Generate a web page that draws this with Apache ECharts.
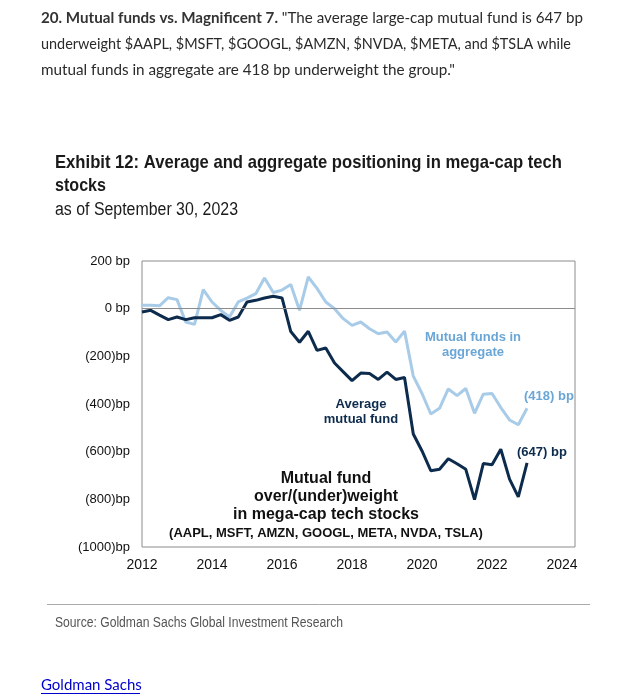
<!DOCTYPE html>
<html>
<head>
<meta charset="utf-8">
<script src="https://cdn.jsdelivr.net/npm/echarts@6/dist/echarts.min.js"></script>
<style>
html,body{margin:0;padding:0;background:#fff;}
#c{width:617px;height:699px;}
</style>
</head>
<body>
<div id="c"></div>
<script>
// Quarterly observation dates (decimal years)
var quarters = [
  2012.0, 2012.25, 2012.5, 2012.75,
  2013.0, 2013.25, 2013.5, 2013.75,
  2014.0, 2014.25, 2014.5, 2014.75,
  2015.0, 2015.25, 2015.5, 2015.75,
  2016.0, 2016.25, 2016.5, 2016.75,
  2017.0, 2017.25, 2017.5, 2017.75,
  2018.0, 2018.25, 2018.5, 2018.75,
  2019.0, 2019.25, 2019.5, 2019.75,
  2020.0, 2020.25, 2020.5, 2020.75,
  2021.0, 2021.25, 2021.5, 2021.75,
  2022.0, 2022.25, 2022.5, 2022.75,
  2023.0
];
// Mutual funds in aggregate (bp)
var aggregate = [
  14, 14, 12, 46,
  38, -56, -66, 80,
  28, -7, -35, 28,
  44, 63, 129, 68,
  78, 101, -7, 133,
  85, 28, 0, -42,
  -70, -56, -84, -105,
  -98, -140, -94, -283,
  -356, -442, -418, -337,
  -365, -335, -439, -359,
  -356, -415, -467, -487,
  -418
];
// Average mutual fund (bp)
var average = [
  -14, -7, -27, -46,
  -35, -46, -38, -38,
  -38, -25, -49, -35,
  28, 35, 45, 52,
  45, -96, -141, -95,
  -175, -165, -228, -265,
  -302, -270, -272, -297,
  -266, -297, -289, -526,
  -597, -680, -674, -630,
  -651, -674, -801, -650,
  -655, -590, -715, -790,
  -647
];
var yTicks = [-1000, -800, -600, -400, -200, 0, 200];
var xTicks = [2012, 2014, 2016, 2018, 2020, 2022, 2024];

function pairs(ys){ return quarters.map(function(q,i){ return [q, ys[i]]; }); }
function fmtY(v){
  if (v > 0) return v + ' bp';
  if (v === 0) return '0 bp';
  return '(' + (-v) + ')bp';
}

var DARK = '#0c2b4d';
var LIGHT = '#a8cbe8';
var LIGHTTXT = '#6aa6d6';
var ARIAL = '"Liberation Sans",Arial,sans-serif';
var BODY = 'Lato,"Open Sans",sans-serif';

var ctx = document.createElement('canvas').getContext('2d');
function measure(text, font){ ctx.font = font; return ctx.measureText(text).width; }
function fitted(text, font, x, y, targetW, fill){
  var s = targetW / measure(text, font);
  return {type:'text', x:x, y:y, scaleX:s, style:{text:text, font:font, fill:fill, textAlign:'left', textVerticalAlign:'middle'}};
}

var L1B = '20. Mutual funds vs. Magnificent 7.';
var L1R = ' "The average large-cap mutual fund is 647 bp';
var l1w = measure(L1B, 'bold 15px Lato') + measure(L1R, '15px Lato');

var chart = echarts.init(document.getElementById('c'), null, {renderer:'canvas'});
chart.setOption({
  animation:false,
  backgroundColor:'#fff',
  grid:{left:142, top:261, right:42, bottom:152, show:true, borderColor:'#8c8c8c', borderWidth:1, containLabel:false},
  xAxis:{
    type:'value', min:2012, max:2024.37, interval:2,
    axisLine:{show:false}, axisTick:{show:false}, splitLine:{show:false},
    axisLabel:{showMaxLabel:false, color:'#111', fontSize:14, fontFamily:ARIAL, margin:11,
      formatter:function(v){ return xTicks.indexOf(v) >= 0 ? String(v) : ''; }}
  },
  yAxis:{
    type:'value', min:-1000, max:200, interval:200,
    axisLine:{show:false}, axisTick:{show:false}, splitLine:{show:false},
    axisLabel:{color:'#111', fontSize:13, fontFamily:ARIAL, margin:12,
      formatter:function(v){ return yTicks.indexOf(v) >= 0 ? fmtY(v) : ''; }}
  },
  series:[
    {type:'line', name:'Mutual funds in aggregate', data:pairs(aggregate), showSymbol:false,
     lineStyle:{color:LIGHT, width:3}, z:2,
     markLine:{silent:true, symbol:'none', label:{show:false},
       lineStyle:{color:'#8c8c8c', width:1, type:'solid'}, data:[{yAxis:0}]}},
    {type:'line', name:'Average mutual fund', data:pairs(average), showSymbol:false,
     lineStyle:{color:DARK, width:3}, z:3}
  ],
  graphic:[
    {type:'text', x:41, y:18, scaleX:542 / l1w, style:{text:'{b|' + L1B + '}{r|' + L1R + '}', textVerticalAlign:'middle',
      rich:{b:{fontWeight:'bold', fontSize:15, fontFamily:'Lato', fill:'#333'}, r:{fontSize:15, fontFamily:'Lato', fill:'#2a2a2a'}}}},
    fitted('underweight $AAPL, $MSFT, $GOOGL, $AMZN, $NVDA, $META, and $TSLA while', '15px '+BODY, 41, 44, 530, '#2a2a2a'),
    fitted('mutual funds in aggregate are 418 bp underweight the group."', '15px '+BODY, 41, 70, 414, '#2a2a2a'),

    fitted('Exhibit 12: Average and aggregate positioning in mega-cap tech', 'bold 19px '+ARIAL, 55, 163, 507, '#1a1a1a'),
    fitted('stocks', 'bold 19px '+ARIAL, 55, 186, 51, '#1a1a1a'),
    fitted('as of September 30, 2023', '18px '+ARIAL, 55, 210, 183, '#1a1a1a'),

    {type:'text', x:473, y:337, style:{text:'Mutual funds in', fill:LIGHTTXT, font:'bold 13px '+ARIAL, textAlign:'center', textVerticalAlign:'middle'}},
    {type:'text', x:473, y:352, style:{text:'aggregate', fill:LIGHTTXT, font:'bold 13px '+ARIAL, textAlign:'center', textVerticalAlign:'middle'}},
    {type:'text', x:524, y:396, style:{text:'(418) bp', fill:LIGHTTXT, font:'bold 13px '+ARIAL, textAlign:'left', textVerticalAlign:'middle'}},
    {type:'text', x:361, y:404, style:{text:'Average', fill:DARK, font:'bold 13px '+ARIAL, textAlign:'center', textVerticalAlign:'middle'}},
    {type:'text', x:361, y:419, style:{text:'mutual fund', fill:DARK, font:'bold 13px '+ARIAL, textAlign:'center', textVerticalAlign:'middle'}},
    {type:'text', x:517, y:452, style:{text:'(647) bp', fill:DARK, font:'bold 13px '+ARIAL, textAlign:'left', textVerticalAlign:'middle'}},

    {type:'text', x:326, y:479, style:{text:'Mutual fund', fill:'#111', font:'bold 16px '+ARIAL, textAlign:'center', textVerticalAlign:'middle'}},
    {type:'text', x:326, y:497, style:{text:'over/(under)weight', fill:'#111', font:'bold 16px '+ARIAL, textAlign:'center', textVerticalAlign:'middle'}},
    {type:'text', x:326, y:515, style:{text:'in mega-cap tech stocks', fill:'#111', font:'bold 16px '+ARIAL, textAlign:'center', textVerticalAlign:'middle'}},
    {type:'text', x:326, y:533, style:{text:'(AAPL, MSFT, AMZN, GOOGL, META, NVDA, TSLA)', fill:'#111', font:'bold 13px '+ARIAL, textAlign:'center', textVerticalAlign:'middle'}},

    {type:'line', shape:{x1:47, y1:604.5, x2:590, y2:604.5}, style:{stroke:'#aaa', lineWidth:1}},
    fitted('Source: Goldman Sachs Global Investment Research', '14px '+ARIAL, 55, 623, 288, '#555'),

    {type:'text', x:41, y:685, style:{text:'Goldman Sachs', fill:'#0000cc', font:'15px '+BODY, textVerticalAlign:'middle'}},
    {type:'line', shape:{x1:41, y1:693.5, x2:140, y2:693.5}, style:{stroke:'#0000cc', lineWidth:1}}
  ]
});
</script>
</body>
</html>
